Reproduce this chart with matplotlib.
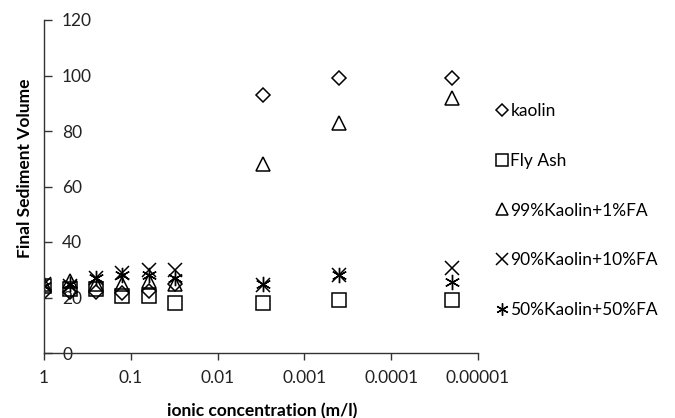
import matplotlib
matplotlib.use("Agg")
import matplotlib.pyplot as plt
from matplotlib.ticker import FixedLocator, FixedFormatter, NullLocator

plt.rcParams['font.family'] = ['Lato', 'DejaVu Sans']

conc = [1, 0.5, 0.25, 0.125, 0.0625, 0.03125, 0.003, 0.0004, 0.00002]
kaolin = [22, 22, 22, 21.5, 22.5, 25, 93, 99, 99]
fly_ash = [24, 23, 23, 20.5, 20.5, 18, 18, 19, 19]
k99 = [25, 26, 25, 25, 26, 25, 68, 83, 92]
k90 = [25, 24, 27, 29, 30, 30, 24.5, 28, 30.5]
k50 = [24, 25, 27, 28, 28, 27, 25, 28, 25.5]
series_labels = ["kaolin", "Fly Ash", "99%Kaolin+1%FA", "90%Kaolin+10%FA", "50%Kaolin+50%FA"]
xticks = [1, 0.1, 0.01, 0.001, 0.0001, 0.00001]
xtick_labels = ["1", "0.1", "0.01", "0.001", "0.0001", "0.00001"]
yticks = [0, 20, 40, 60, 80, 100, 120]

fig = plt.figure(figsize=(6.75, 4.18), dpi=100)
ax = fig.add_axes([44/675, 1-353/418, (478-44)/675, (353-20)/418])

styles = [
    dict(marker='D', ms=7.2, mew=1.1),
    dict(marker='s', ms=10.5, mew=1.1),
    dict(marker='^', ms=10, mew=1.1),
    dict(marker='x', ms=10.5, mew=1.1),
    dict(marker=(6, 2, 0), ms=11, mew=1.0),
]
handles = []
for ys, st, lab in zip([kaolin, fly_ash, k99, k90, k50], styles, series_labels):
    h, = ax.plot(conc, ys, linestyle='none', marker=st['marker'], ms=st['ms'],
                 mew=st['mew'], mfc='none', mec='black', color='black', label=lab)
    handles.append(h)

ax.set_xscale('log')
ax.set_xlim(1, 0.00001)
ax.set_ylim(0, 120)
ax.xaxis.set_major_locator(FixedLocator(xticks))
ax.xaxis.set_major_formatter(FixedFormatter(xtick_labels))
ax.xaxis.set_minor_locator(NullLocator())
ax.set_yticks(yticks)

for s in ['top', 'right']:
    ax.spines[s].set_visible(False)
for s in ['left', 'bottom']:
    ax.spines[s].set_linewidth(1.0)
    ax.spines[s].set_color('#333333')

ax.tick_params(axis='x', direction='out', length=5, width=1, color='#333333',
               labelsize=12.5, pad=7, labelcolor='#222222')
ax.tick_params(axis='y', direction='in', length=6, width=1, color='#333333',
               labelsize=12.5, pad=-13, labelcolor='#222222')
for lbl in ax.get_yticklabels():
    lbl.set_horizontalalignment('left')

ax.set_xlabel("ionic concentration (m/l)", fontsize=12.5, fontweight='bold')
ax.set_ylabel("Final Sediment Volume", fontsize=12.5, fontweight='bold')
ax.xaxis.set_label_coords(0.503, -0.150)
ax.yaxis.set_label_coords(-0.025, 0.554)

fig.legend(handles=handles, labels=series_labels, loc='center left',
           bbox_to_anchor=(0.737, 1-210.5/418), frameon=False, fontsize=12.5,
           markerscale=0.8, handlelength=0.5, handletextpad=0.25, labelspacing=1.95,
           borderpad=0, borderaxespad=0)

fig.savefig("out.png", dpi=100)
